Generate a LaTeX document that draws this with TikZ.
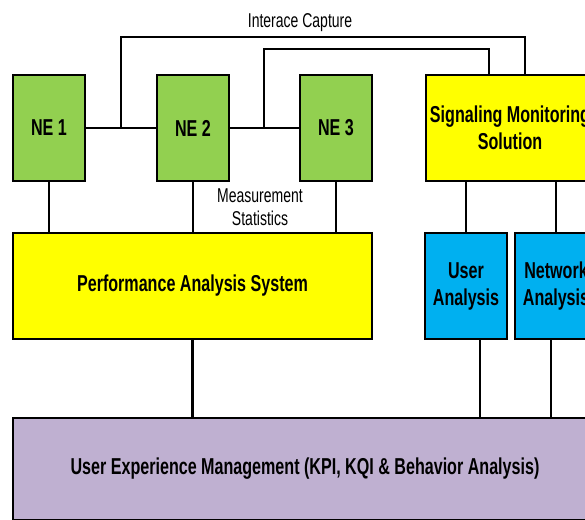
\documentclass[tikz,border=0pt]{standalone}
\usepackage{fontspec}
\setmainfont{Liberation Sans}[FakeStretch=0.70]
\definecolor{negreen}{HTML}{92D050}
\definecolor{sysyellow}{HTML}{FFFF00}
\definecolor{anblue}{HTML}{00B0F0}
\definecolor{uempurple}{HTML}{BFB0D1}
\tikzset{
  box/.style={draw=black, line width=2.8pt, inner sep=0pt, align=center,
    font=\fontsize{23}{27}\selectfont\bfseries},
  link/.style={draw=black, line width=2.8pt},
  lbl/.style={inner sep=0pt, align=center, font=\fontsize{20}{23}\selectfont}
}
\begin{document}
\begin{tikzpicture}[x=1pt,y=-1pt]
\useasboundingbox (0,0) rectangle (585,519);
\clip (0,0) rectangle (585,519);
% nodes
\node[box, fill=negreen, minimum width=72pt, minimum height=106pt] (NE1) at (49,128) {NE 1};
\node[box, fill=negreen, minimum width=72pt, minimum height=106pt] (NE2) at (193,128) {NE 2};
\node[box, fill=negreen, minimum width=72pt, minimum height=106pt] (NE3) at (336,128) {NE 3};
\node[box, fill=sysyellow, minimum width=168pt, minimum height=106pt] (SMS) at (510,128) {Signaling Monitoring\\Solution};
\node[box, fill=sysyellow, minimum width=359pt, minimum height=106pt] (PAS) at (192.5,286) {Performance Analysis System};
\node[box, fill=anblue, minimum width=82pt, minimum height=106pt] (UA) at (466,286) {User\\Analysis};
\node[box, fill=anblue, minimum width=82pt, minimum height=106pt] (NA) at (556,286) {Network\\Analysis};
\node[box, fill=uempurple, minimum width=584pt, minimum height=102pt] (UEM) at (305,469) {User Experience Management (KPI, KQI \& Behavior Analysis)};
% labels
\node[lbl] (ic) at (300,22.5) {Interace Capture};
\node[lbl] (ms) at (260,207) {Measurement\\Statistics};
% coordinates
\coordinate (j1) at (121,128);
\coordinate (k1) at (525,37);
\coordinate (j2) at (264,128);
\coordinate (k2) at (489,49);
\coordinate (u1) at (480,0);
\coordinate (n1) at (551,0);
% connectors
\draw[link] (NE1) -- (NE2);
\draw[link] (NE2) -- (NE3);
\draw[link] (j1) |- (k1) -- (k1 |- SMS.north);
\draw[link] (j2) |- (k2) -- (k2 |- SMS.north);
\draw[link] (NE1.south) -- (NE1.south |- PAS.north);
\draw[link] (NE2.south) -- (NE2.south |- PAS.north);
\draw[link] (NE3.south) -- (NE3.south |- PAS.north);
\draw[link] (UA.north |- SMS.south) -- (UA.north);
\draw[link] (NA.north |- SMS.south) -- (NA.north);
\draw[link] (PAS.south) -- (PAS.south |- UEM.north);
\draw[link] (u1 |- UA.south) -- (u1 |- UEM.north);
\draw[link] (n1 |- NA.south) -- (n1 |- UEM.north);
\end{tikzpicture}
\end{document}
